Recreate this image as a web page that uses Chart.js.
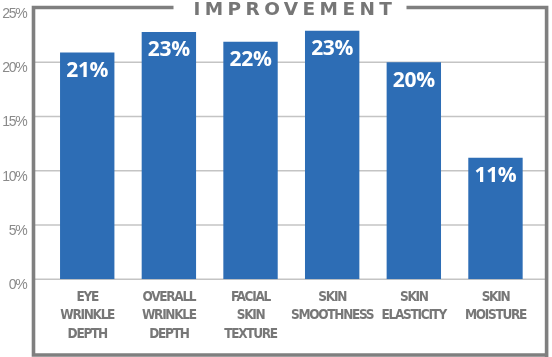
<!DOCTYPE html>
<html>
<head>
<meta charset="utf-8">
<script src="https://cdn.jsdelivr.net/npm/chart.js@4.4.1/dist/chart.umd.min.js"></script>
<style>
  html, body { margin: 0; padding: 0; background: #ffffff; }
  #wrap { width: 552px; height: 357px; }
</style>
</head>
<body>
<div id="wrap"><canvas id="c" width="552" height="357"></canvas></div>
<script>
const categories = [
  ['EYE', 'WRINKLE', 'DEPTH'],
  ['OVERALL', 'WRINKLE', 'DEPTH'],
  ['FACIAL', 'SKIN', 'TEXTURE'],
  ['SKIN', 'SMOOTHNESS'],
  ['SKIN', 'ELASTICITY'],
  ['SKIN', 'MOISTURE']
];
const improvement = [20.9, 22.8, 21.9, 22.9, 20.0, 11.2];
const valueLabels = ['21%', '23%', '22%', '23%', '20%', '11%'];
const yTicks = [0, 5, 10, 15, 20, 25];
const chartTitle = 'IMPROVEMENT';

const FRAME = '#7f7f7f';
const GRID = '#c4c4c4';
const TEXT_SPACING = '-1.3px';

const decorPlugin = {
  id: 'decor',
  beforeUpdate(chart) { chart.ctx.letterSpacing = TEXT_SPACING; },
  beforeDraw(chart) { chart.ctx.letterSpacing = TEXT_SPACING; },
  beforeDatasetsDraw(chart) {
    const ctx = chart.ctx;
    const y = chart.scales.y;
    ctx.save();
    ctx.strokeStyle = GRID;
    ctx.lineWidth = 1.5;
    yTicks.forEach(v => {
      if (v === 25) return;
      const py = y.getPixelForValue(v);
      ctx.beginPath();
      ctx.moveTo(35, py);
      ctx.lineTo(545, py);
      ctx.stroke();
    });
    ctx.restore();
  },
  afterDatasetsDraw(chart) {
    const ctx = chart.ctx;
    ctx.save();
    // frame
    ctx.strokeStyle = FRAME;
    ctx.lineWidth = 3.6;
    ctx.beginPath();
    ctx.moveTo(173.5, 7.5);
    ctx.lineTo(31.7, 7.5);
    ctx.moveTo(33.5, 5.7);
    ctx.lineTo(33.5, 355);
    ctx.lineTo(546.6, 355);
    ctx.moveTo(546.6, 357);
    ctx.lineTo(546.6, 7.5);
    ctx.lineTo(406.5, 7.5);
    ctx.stroke();
    // title
    ctx.fillStyle = '#767676';
    ctx.font = 'bold 18.5px "DejaVu Sans", sans-serif';
    ctx.textBaseline = 'alphabetic';
    ctx.textAlign = 'left';
    ctx.letterSpacing = '4.4px';
    ctx.fillText(chartTitle, 193.5, 15.2);
    // value labels
    ctx.letterSpacing = '-0.3px';
    ctx.fillStyle = '#ffffff';
    ctx.font = 'bold 21px "Open Sans", "DejaVu Sans", sans-serif';
    ctx.textAlign = 'center';
    ctx.textBaseline = 'middle';
    const meta = chart.getDatasetMeta(0);
    meta.data.forEach((bar, i) => {
      ctx.fillText(valueLabels[i], bar.x, bar.y + 18.5);
    });
    ctx.restore();
    ctx.letterSpacing = TEXT_SPACING;
  }
};

new Chart(document.getElementById('c'), {
  type: 'bar',
  data: {
    labels: categories,
    datasets: [{
      data: improvement,
      backgroundColor: '#2d6db5',
      borderWidth: 0,
      barPercentage: 0.666,
      categoryPercentage: 1.0
    }]
  },
  options: {
    responsive: false,
    devicePixelRatio: 1,
    animation: false,
    layout: { padding: { left: 0, right: 15.7, top: 8.05, bottom: 0 } },
    plugins: {
      legend: { display: false },
      tooltip: { enabled: false },
      title: { display: false }
    },
    scales: {
      x: {
        grid: { display: false, drawTicks: false },
        border: { display: false },
        afterFit(scale) {
          scale.height = 357 - 279.3;
          scale.paddingLeft = 0;
          scale.paddingRight = 0;
        },
        ticks: {
          autoSkip: false,
          maxRotation: 0,
          minRotation: 0,
          padding: 9,
          color: '#777777',
          font: { family: '"DejaVu Sans", sans-serif', size: 13.5, weight: 'condensed bold', lineHeight: 1.36 }
        }
      },
      y: {
        min: 0,
        max: 25,
        grid: { display: false, drawTicks: false },
        border: { display: false },
        afterFit(scale) {
          scale.width = 46.4;
          scale.paddingTop = 0;
          scale.paddingBottom = 0;
        },
        afterBuildTicks(scale) { scale.ticks = yTicks.map(v => ({ value: v })); },
        ticks: {
          padding: 20,
          labelOffset: 6,
          color: '#8a8a8a',
          font: { family: '"Liberation Sans", Arial, sans-serif', size: 14, weight: 'normal' },
          callback: v => v + '%'
        }
      }
    }
  },
  plugins: [decorPlugin]
});
</script>
</body>
</html>
